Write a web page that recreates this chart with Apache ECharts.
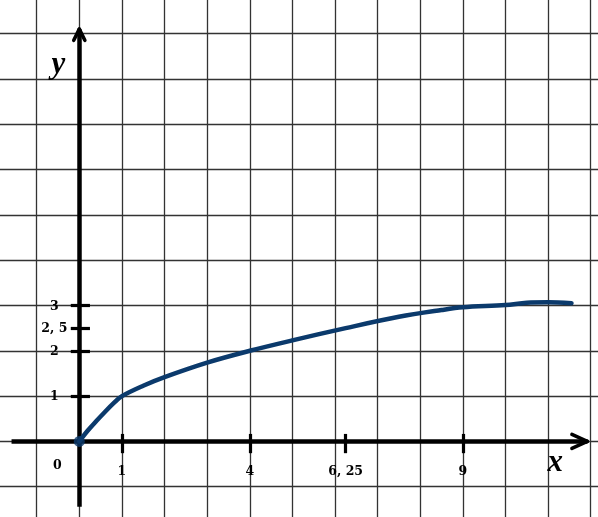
<!DOCTYPE html>
<html>
<head>
<meta charset="utf-8">
<script src="https://cdn.jsdelivr.net/npm/echarts@6/dist/echarts.min.js"></script>
<style>
html,body{margin:0;padding:0;background:#fff;overflow:hidden;width:598px;height:517px;}
#chart{position:absolute;left:-10px;top:-20px;width:648px;height:557px;}
</style>
</head>
<body>
<div id="chart"></div>
<script>
// ---- data ----
const curveX = [0, 0.2, 0.4, 0.6, 0.8, 1, 1.5, 2, 3, 4, 5, 6.25, 7.5, 8.5, 9, 10, 10.5, 11, 11.55];
const curveY = [0, 0.24, 0.45, 0.65, 0.84, 1, 1.23, 1.42, 1.74, 2, 2.23, 2.5, 2.75, 2.9, 2.96, 3.01, 3.06, 3.07, 3.05];
const xTicks = [1, 4, 6.25, 9];
const xTickLabels = ['1', '4', '6, 25', '9'];
const yTicks = [1, 2, 2.5, 3];
const yTickLabels = ['1', '2', '2, 5', '3'];
const originLabel = '0';
const xName = 'x';
const yName = 'y';
const xAxisExtent = [-1.59, 11.92];
const yAxisExtent = [-1.44, 9.1];

// ---- styles ----
const navy = '#0b3a6c';
const gridColor = '#333';
const labelFont = {fontFamily: 'DejaVu Serif', fontWeight: 'bold', fontSize: 12.5, color: '#000', opacity: 1,
  textBorderWidth: 0, textBorderColor: 'transparent', textShadowBlur: 0};
const nameFont = {fontFamily: 'Liberation Serif', fontWeight: 'bold', fontStyle: 'italic', fontSize: 31, color: '#000', opacity: 1,
  textBorderWidth: 0, textBorderColor: 'transparent', textShadowBlur: 0};

const chart = echarts.init(document.getElementById('chart'), null, {renderer: 'canvas'});

const axisSegs = [
  [{coord: [xAxisExtent[0], 0]}, {coord: [xAxisExtent[1], 0]}],
  [{coord: [0, yAxisExtent[0]]}, {coord: [0, yAxisExtent[1]]}]
];
const arrowSegs = [
  [{coord: [xAxisExtent[1], 0]}, {coord: [xAxisExtent[1] - 0.36, 0.155]}],
  [{coord: [xAxisExtent[1], 0]}, {coord: [xAxisExtent[1] - 0.36, -0.155]}],
  [{coord: [0, yAxisExtent[1]]}, {coord: [-0.13, yAxisExtent[1] - 0.245]}],
  [{coord: [0, yAxisExtent[1]]}, {coord: [0.13, yAxisExtent[1] - 0.245]}]
];
const tickSegs = xTicks.map(t => [{coord: [t, 0.165]}, {coord: [t, -0.26]}])
  .concat(yTicks.map(t => [{coord: [-0.2, t]}, {coord: [0.25, t]}]));

function segSeries(data, width, cap) {
  return {
    type: 'line', data: [], silent: true, z: 3,
    markLine: {
      silent: true, symbol: 'none', animation: false,
      label: {show: false},
      lineStyle: {color: '#000', width: width, type: 'solid', cap: cap},
      emphasis: {disabled: true},
      data: data
    }
  };
}
function textSeries(points, offset, formatter, font) {
  return {
    type: 'scatter', z: 7, silent: true, symbolSize: 1,
    itemStyle: {color: '#fff', opacity: 0},
    emphasis: {disabled: true},
    data: points,
    label: Object.assign({show: true, position: 'inside', offset: offset, formatter: formatter}, font)
  };
}

const option = {
  animation: false,
  backgroundColor: '#fff',
  grid: {left: 4.07, right: 4.7, top: 8.4, bottom: 5, containLabel: false},
  xAxis: {
    type: 'value', min: -2, max: 13, interval: 1,
    axisLine: {show: false}, axisTick: {show: false}, axisLabel: {show: false},
    splitLine: {show: true, lineStyle: {color: gridColor, width: 1.3}}
  },
  yAxis: {
    type: 'value', min: -2, max: 10, interval: 1,
    axisLine: {show: false}, axisTick: {show: false}, axisLabel: {show: false},
    splitLine: {show: true, lineStyle: {color: gridColor, width: 1.3}}
  },
  series: [
    segSeries(axisSegs, 4.5, 'butt'),
    segSeries(arrowSegs, 3.6, 'round'),
    segSeries(tickSegs, 3.2, 'butt'),
    {
      type: 'line', z: 5, silent: true,
      data: curveX.map((x, i) => [x, curveY[i]]),
      smooth: 0.35, showSymbol: false,
      lineStyle: {color: navy, width: 4.5, cap: 'round', join: 'round'}
    },
    {
      type: 'scatter', z: 6, silent: true,
      data: [[0, 0]], symbolSize: 11,
      itemStyle: {color: navy}
    },
    textSeries(xTicks.map(t => [t, 0]), [0, 30], p => xTickLabels[p.dataIndex], labelFont),
    textSeries(yTicks.map(t => [0, t]), [-25, 1], p => yTickLabels[p.dataIndex], labelFont),
    textSeries([[0, 0]], [-22, 24], originLabel, labelFont),
    textSeries([[xAxisExtent[1], 0]], [-32, 22], xName, nameFont),
    textSeries([[0, yAxisExtent[1]]], [-21, 36], yName, nameFont)
  ]
};
chart.setOption(option);
</script>
</body>
</html>
